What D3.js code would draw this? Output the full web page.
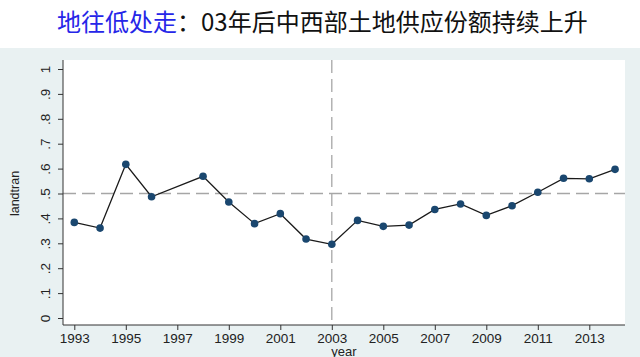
<!DOCTYPE html>
<html><head><meta charset="utf-8">
<script src="https://cdn.jsdelivr.net/npm/d3@7"></script>
<style>body{margin:0;background:#fff}svg{display:block}</style>
</head><body>
<script>
const years = [1993,1994,1995,1996,1998,1999,2000,2001,2002,2003,2004,2005,2006,2007,2008,2009,2010,2011,2012,2013,2014];
const landtran = [0.384,0.361,0.617,0.487,0.569,0.466,0.379,0.419,0.317,0.296,0.392,0.368,0.373,0.436,0.458,0.412,0.451,0.505,0.561,0.559,0.597];
const xTicks = [1993,1995,1997,1999,2001,2003,2005,2007,2009,2011,2013];
const yTicks = [0,0.1,0.2,0.3,0.4,0.5,0.6,0.7,0.8,0.9,1];
const yTickLabels = ["0",".1",".2",".3",".4",".5",".6",".7",".8",".9","1"];
const refY = 0.5, refX = 2003;
const titleBlue = "地往低处走", titleRest = "：03年后中西部土地供应份额持续上升";

const W=640,H=357;
const svg=d3.select("body").append("svg").attr("width",W).attr("height",H);
svg.append("rect").attr("width",W).attr("height",H).attr("fill","#fff");
svg.append("rect").attr("x",0).attr("y",48).attr("width",W).attr("height",H-48).attr("fill","#e9f1f2");
const L=63,R=625,T=60,B=325;
svg.append("rect").attr("x",L).attr("y",T).attr("width",R-L).attr("height",B-T).attr("fill","#fff");

const t=svg.append("text").attr("x",57).attr("y",31).attr("font-family","'Noto Sans CJK SC'").attr("font-size",24);
t.append("tspan").attr("fill","#2626e8").text(titleBlue);
t.append("tspan").attr("fill","#111").text(titleRest);

const x=d3.scaleLinear().domain([1993,2013]).range([74.3,589.3]);
const y=d3.scaleLinear().domain([0,1]).range([318,69]);

// reference lines
svg.append("line").attr("x1",L).attr("x2",R).attr("y1",y(refY)).attr("y2",y(refY))
  .attr("stroke","#a6a6a6").attr("stroke-width",1.3).attr("stroke-dasharray","13,6");
svg.append("line").attr("x1",x(refX)).attr("x2",x(refX)).attr("y1",T).attr("y2",B)
  .attr("stroke","#a6a6a6").attr("stroke-width",1.3).attr("stroke-dasharray","13,6");

// axes
const fontAx="'Liberation Sans', Arial, sans-serif";
const yAxis=d3.axisLeft(y).tickValues(yTicks).tickFormat((d,i)=>yTickLabels[i]).tickSize(5);
const gy=svg.append("g").attr("transform",`translate(${L},0)`).call(yAxis);
gy.select(".domain").attr("d",`M0,${T}V${B}`).attr("stroke","#333");
gy.selectAll(".tick line").attr("stroke","#333");
gy.selectAll(".tick text").attr("font-family",fontAx).attr("font-size",13.5).attr("fill","#222")
  .attr("text-anchor","middle").attr("transform","rotate(-90)").attr("x",0).attr("y",-13).attr("dy","0");

const xAxis=d3.axisBottom(x).tickValues(xTicks).tickFormat(d3.format("d")).tickSize(5).tickPadding(3);
const gx=svg.append("g").attr("transform",`translate(0,${B})`).call(xAxis);
gx.select(".domain").attr("d",`M${L},0H${R}`).attr("stroke","#333");
gx.selectAll(".tick line").attr("stroke","#333");
gx.selectAll(".tick text").attr("font-family",fontAx).attr("font-size",13.5).attr("fill","#222");

svg.append("text").attr("x",(L+R)/2).attr("y",355.5).attr("text-anchor","middle")
  .attr("font-family",fontAx).attr("font-size",13).attr("fill","#222").text("year");
svg.append("text").attr("transform",`translate(19,${y(0.5)}) rotate(-90)`).attr("text-anchor","middle")
  .attr("font-family",fontAx).attr("font-size",12.5).attr("fill","#222").text("landtran");

const data=years.map((d,i)=>({year:d,v:landtran[i]}));
svg.append("path").datum(data).attr("fill","none").attr("stroke","#1a1a1a").attr("stroke-width",1.3)
  .attr("d",d3.line().x(d=>x(d.year)).y(d=>y(d.v)));
svg.selectAll("circle.pt").data(data).enter().append("circle").attr("class","pt")
  .attr("cx",d=>x(d.year)).attr("cy",d=>y(d.v)).attr("r",3.8).attr("fill","#1a476f");
</script>
</body></html>
